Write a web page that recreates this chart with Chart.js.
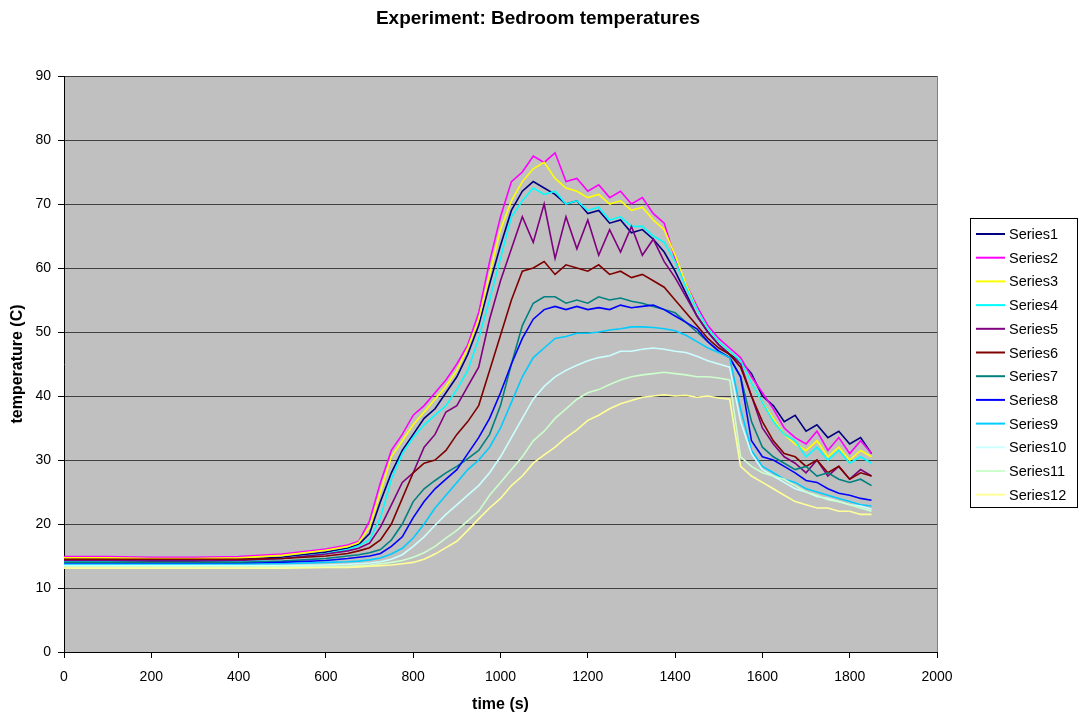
<!DOCTYPE html>
<html>
<head>
<meta charset="utf-8">
<script src="https://cdn.jsdelivr.net/npm/chart.js@4.4.1/dist/chart.umd.min.js"></script>
<style>
  html, body { margin: 0; padding: 0; background: #fff; }
  canvas { display: block; }
</style>
</head>
<body>
<canvas id="bedroomChart" width="1080" height="714"></canvas>
<script>
// time stamps (s)
const times = [0, 100, 200, 300, 400, 500, 600, 650, 675,
  700, 725, 750, 775, 800, 825, 850, 875, 900, 925, 950, 975,
  1000, 1025, 1050, 1075, 1100, 1125, 1150, 1175, 1200, 1225, 1250, 1275,
  1300, 1325, 1350, 1375, 1400, 1425, 1450, 1475, 1500, 1525, 1550, 1575,
  1600, 1625, 1650, 1675, 1700, 1725, 1750, 1775, 1800, 1825, 1850];

const series1 = [14.5, 14.5, 14.4, 14.4, 14.5, 14.8, 15.6, 16.2, 16.8,
  18.5, 23.5, 28, 31.5, 34, 36.5, 38, 40.5, 43, 46.5, 51, 57.5,
  63.5, 69, 72, 73.5, 72.5, 71.5, 70, 70.5, 68.5, 69, 67, 67.5,
  65.5, 66, 64.5, 62.5, 59.5, 56, 52.5, 50, 48, 46.5, 45.5, 43.5,
  40, 38.5, 36, 37, 34.5, 35.5, 33.5, 34.5, 32.5, 33.5, 31];
const series2 = [14.9, 14.9, 14.8, 14.8, 14.9, 15.3, 16.1, 16.7, 17.3,
  20.5, 26.5, 31.5, 34, 37, 38.5, 40.5, 42.5, 45, 48, 53, 61,
  68, 73.5, 75, 77.5, 76.5, 78, 73.5, 74, 72, 73, 71, 72,
  70, 71, 68.5, 67, 61.5, 57.5, 54, 51, 49, 47.5, 46, 43,
  40.5, 38, 35, 33.5, 32.5, 34.5, 31.5, 33.5, 31, 33, 31];
const series3 = [14.7, 14.7, 14.6, 14.6, 14.7, 15.1, 15.9, 16.5, 17.1,
  19.5, 25, 30.5, 33, 35.5, 37.5, 39.5, 41.5, 44, 47.5, 52, 59,
  66, 70.5, 73.5, 75.5, 76.5, 74, 72.5, 72, 71, 71.5, 70, 70.5,
  69, 69.5, 67.5, 66, 62, 57.5, 53.5, 50.5, 48.5, 47, 45.5, 42,
  39, 36.5, 34, 32.5, 31.5, 33, 30.5, 32, 30, 31.5, 30.5];
const series4 = [14.2, 14.2, 14.1, 14.1, 14.2, 14.6, 15.4, 16, 16.6,
  17.5, 21, 27, 31, 33.5, 35.5, 37, 38.5, 41, 44, 49, 55,
  61.5, 68, 70.5, 72.5, 71.5, 72, 70, 70.5, 69, 69.5, 67.5, 68,
  66.5, 66.5, 65, 64, 61, 57, 53.5, 50.5, 48.5, 47, 45.5, 42,
  39, 36, 34, 33, 30.5, 32, 30, 31.5, 29.5, 30.5, 29.5];
const series5 = [14.3, 14.3, 14.2, 14.2, 14.3, 14.6, 15.3, 15.8, 16.2,
  17, 19.5, 23, 26.5, 28, 32, 34, 37.5, 38.5, 41.5, 44.5, 52,
  58, 63, 68, 64, 70, 61.5, 68, 63, 67.5, 62, 66, 62.5,
  66.5, 62, 64.5, 61, 58.5, 55.5, 52.5, 50, 48, 46.5, 45, 40,
  35, 32.5, 30.5, 29.5, 28, 30, 27.5, 29, 27, 28.5, 27.5];
const series6 = [14.5, 14.5, 14.5, 14.5, 14.5, 14.6, 15, 15.4, 15.8,
  16.3, 17.5, 20, 24, 28, 29.5, 30, 31.5, 34, 36, 38.5, 44,
  49.5, 55, 59.5, 60, 61, 59, 60.5, 60, 59.5, 60.5, 59, 59.5,
  58.5, 59, 58, 57, 55, 53, 51, 49, 47.5, 46.5, 44.5, 40,
  36, 33, 31, 30.5, 29, 30, 28, 29, 27, 28, 27.5];
const series7 = [14, 14, 14, 14, 14, 14.2, 14.6, 15, 15.2,
  15.5, 16, 17.5, 20, 23.5, 25.5, 26.8, 28, 29, 30.2, 31.5, 34,
  38.5, 45, 51, 54.5, 55.5, 55.5, 54.5, 55, 54.5, 55.5, 55, 55.3,
  54.8, 54.5, 54, 53.5, 53, 51.5, 50, 48.5, 47, 46, 43, 36,
  32, 30.5, 29.5, 28.5, 29, 27.5, 28, 27, 26.5, 27, 26];
const series8 = [13.8, 13.8, 13.8, 13.8, 13.8, 14, 14.3, 14.6, 14.8,
  15, 15.4, 16.5, 18, 21, 23.5, 25.5, 27, 28.5, 31, 33.5, 36.5,
  40.5, 45, 49, 52, 53.5, 54, 53.5, 54, 53.5, 53.8, 53.5, 54.2,
  53.8, 54, 54.2, 53.5, 52.5, 51.5, 50.5, 48.5, 47, 46, 43, 33,
  30.5, 30, 29, 28, 26.8, 26.5, 25.5, 24.8, 24.5, 24, 23.7];
const series9 = [13.7, 13.7, 13.7, 13.7, 13.7, 13.8, 14, 14.1, 14.2,
  14.4, 14.7, 15.3, 16.2, 17.8, 20, 22.5, 24.5, 26.5, 28.5, 30, 32,
  35, 39, 43, 46, 47.5, 49, 49.3, 49.8, 49.8, 50, 50.3, 50.5,
  50.8, 50.8, 50.7, 50.5, 50.2, 49.5, 48.5, 47.5, 46.8, 46, 38, 31.5,
  29, 28, 27, 26.5, 25.5, 25, 24.5, 24, 23.5, 23, 22.8];
const series10 = [13.5, 13.5, 13.5, 13.5, 13.5, 13.5, 13.6, 13.7, 13.8,
  13.9, 14.1, 14.5, 15.2, 16.5, 18, 19.8, 21.5, 23, 24.5, 26, 28,
  30.5, 33.5, 36.5, 39.5, 41.5, 43, 44, 44.8, 45.5, 46, 46.3, 47,
  47, 47.3, 47.5, 47.3, 47, 46.8, 46.2, 45.5, 45, 44.5, 36, 31,
  28.5, 27.5, 26.5, 25.5, 25, 24.3, 24, 23.5, 23, 22.8, 22.3];
const series11 = [13.3, 13.3, 13.3, 13.3, 13.3, 13.3, 13.4, 13.4, 13.5,
  13.6, 13.8, 14, 14.3, 14.8, 15.5, 16.5, 17.8, 19, 20.5, 22, 24.5,
  26.5, 28.5, 30.5, 33, 34.5, 36.5, 38, 39.5, 40.5, 41, 41.8, 42.5,
  43, 43.3, 43.5, 43.7, 43.5, 43.3, 43, 43, 42.8, 42.5, 30.5, 29,
  28, 27.5, 27, 26, 25, 24.5, 23.8, 23.5, 23, 22.5, 22];
const series12 = [13.1, 13.1, 13.1, 13.1, 13.1, 13.1, 13.2, 13.2, 13.3,
  13.4, 13.5, 13.6, 13.8, 14, 14.5, 15.3, 16.3, 17.3, 19, 20.8, 22.5,
  24, 26, 27.5, 29.5, 30.8, 32, 33.5, 34.7, 36.2, 37, 38, 38.8,
  39.3, 39.8, 40, 40.2, 40, 40.1, 39.8, 40, 39.7, 39.5, 29, 27.5,
  26.5, 25.5, 24.5, 23.5, 23, 22.5, 22.5, 22, 22, 21.5, 21.5];

const seriesNames = ["Series1", "Series2", "Series3", "Series4", "Series5", "Series6",
  "Series7", "Series8", "Series9", "Series10", "Series11", "Series12"];
const seriesValues = [series1, series2, series3, series4, series5, series6,
  series7, series8, series9, series10, series11, series12];
const seriesColors = ["#000080", "#FF00FF", "#FFFF00", "#00FFFF", "#800080", "#800000",
  "#008080", "#0000FF", "#00CCFF", "#CCFFFF", "#CCFFCC", "#FFFF99"];

const chartTitle = "Experiment: Bedroom temperatures";
const FONT = "Arial, 'Liberation Sans', sans-serif";

// gray plot area, title, framed legend (Excel look)
const excelLook = {
  id: "excelLook",
  beforeDraw(chart) {
    const { ctx, chartArea: a } = chart;
    ctx.save();
    ctx.fillStyle = "#ffffff";
    ctx.fillRect(0, 0, chart.width, chart.height);
    ctx.fillStyle = "#C0C0C0";
    ctx.fillRect(a.left, a.top, a.right - a.left, a.bottom - a.top);
    ctx.restore();
  },
  afterDraw(chart) {
    const { ctx, chartArea: a } = chart;
    ctx.save();
    // plot border on the right
    ctx.strokeStyle = "#808080";
    ctx.lineWidth = 1;
    ctx.beginPath();
    ctx.moveTo(a.right + 0.5, a.top);
    ctx.lineTo(a.right + 0.5, a.bottom);
    ctx.stroke();

    // title
    ctx.fillStyle = "#000";
    ctx.font = "bold 19px " + FONT;
    ctx.textAlign = "center";
    ctx.textBaseline = "middle";
    ctx.fillText(chartTitle, 538, 19);

    // legend
    const lx = 970, ly = 218, lw = 107, lh = 289;
    ctx.fillStyle = "#fff";
    ctx.fillRect(lx, ly, lw, lh);
    ctx.strokeStyle = "#000";
    ctx.strokeRect(lx + 0.5, ly + 0.5, lw, lh);
    ctx.font = "14.5px " + FONT;
    ctx.textAlign = "left";
    chart.data.datasets.forEach((ds, i) => {
      const y = 234 + i * 23.7;
      ctx.strokeStyle = ds.borderColor;
      ctx.lineWidth = 2;
      ctx.beginPath();
      ctx.moveTo(976, y);
      ctx.lineTo(1005, y);
      ctx.stroke();
      ctx.fillStyle = "#000";
      ctx.fillText(ds.label, 1009, y + 1);
    });
    ctx.restore();
  }
};

new Chart(document.getElementById("bedroomChart"), {
  type: "line",
  data: {
    datasets: seriesNames.map((name, i) => ({
      label: name,
      data: times.map((t, j) => ({ x: t, y: seriesValues[i][j] })),
      borderColor: seriesColors[i],
      backgroundColor: seriesColors[i],
      borderWidth: 1.6,
      pointRadius: 0,
      tension: 0,
      order: seriesNames.length - i
    }))
  },
  options: {
    responsive: false,
    animation: false,
    devicePixelRatio: 1,
    layout: { padding: { top: 76, right: 143, left: 0, bottom: 0 } },
    plugins: {
      legend: { display: false },
      title: { display: false },
      tooltip: { enabled: false }
    },
    scales: {
      x: {
        type: "linear",
        min: 0,
        max: 2000,
        afterFit: s => { s.height = 62; },
        ticks: {
          stepSize: 200,
          color: "#000",
          padding: 11,
          font: { family: FONT, size: 14 },
          callback: v => String(v)
        },
        grid: { drawOnChartArea: false, drawTicks: true, tickLength: 6, tickColor: "#000" },
        border: { color: "#000", width: 1 },
        title: {
          display: true,
          text: "time (s)",
          color: "#000",
          font: { family: FONT, size: 16, weight: "bold" },
          padding: { top: 1.5, bottom: 0 }
        }
      },
      y: {
        min: 0,
        max: 90,
        afterFit: s => { s.width = 64; },
        ticks: { stepSize: 10, color: "#000", padding: 7, font: { family: FONT, size: 14 } },
        grid: { color: "#404040", lineWidth: 1, tickLength: 6, tickColor: "#000" },
        border: { color: "#000", width: 1 },
        title: {
          display: true,
          text: "temperature (C)",
          color: "#000",
          font: { family: FONT, size: 16, weight: "bold" },
          padding: { top: 8, bottom: 0 }
        }
      }
    }
  },
  plugins: [excelLook]
});
</script>
</body>
</html>
